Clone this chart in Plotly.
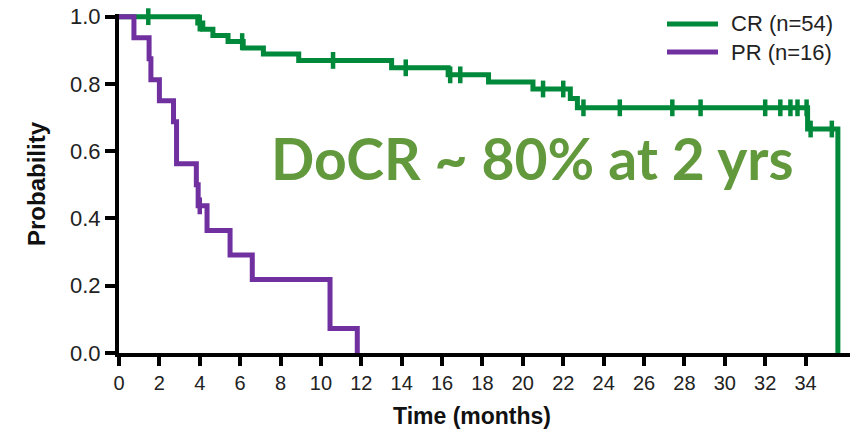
import plotly.graph_objects as go

# ---- data ----
series_names = ["CR (n=54)", "PR (n=16)"]
series_colors = ["#00893a", "#7030a0"]

cr_times = [3.9, 4.15, 4.65, 5.4, 6.15, 7.15, 8.9, 13.5, 16.3, 18.3, 20.5, 22.35, 22.7, 34.1, 35.6]
cr_surv = [0.981, 0.963, 0.944, 0.926, 0.907, 0.889, 0.870, 0.848, 0.827, 0.806, 0.785, 0.757, 0.729, 0.666, 0.0]
cr_censor_times = [1.45, 4.0, 6.1, 10.6, 14.2, 16.4, 16.9, 21.0, 22.0, 23.0, 24.8, 27.4, 28.8,
                   32.0, 32.75, 33.25, 33.6, 34.05, 34.25, 35.3]

pr_times = [0.74, 1.49, 1.58, 2.0, 2.7, 2.85, 3.83, 3.92, 4.36, 5.5, 6.6, 10.45, 11.8]
pr_surv = [0.9375, 0.875, 0.8125, 0.75, 0.6875, 0.5625, 0.5, 0.4375, 0.3646, 0.2917, 0.2188, 0.0729, 0.0]
pr_censor_times = [4.0]

x_ticks = list(range(0, 35, 2))
y_ticks = [0.0, 0.2, 0.4, 0.6, 0.8, 1.0]
annotation_text = "DoCR ~ 80% at 2 yrs"


def level_at(t, times, surv):
    s = 1.0
    for ti, si in zip(times, surv):
        if ti <= t:
            s = si
    return s


fig = go.Figure()
for name, color, times, surv, ctimes in [
    (series_names[0], series_colors[0], cr_times, cr_surv, cr_censor_times),
    (series_names[1], series_colors[1], pr_times, pr_surv, pr_censor_times),
]:
    fig.add_trace(go.Scatter(
        x=[0] + times, y=[1.0] + surv, mode="lines", line=dict(color=color, width=5, shape="hv"),
        name=name, showlegend=False, hoverinfo="skip"))
    fig.add_trace(go.Scatter(
        x=ctimes, y=[level_at(t, times, surv) for t in ctimes], mode="markers",
        marker=dict(symbol="line-ns", size=12, line=dict(color=color, width=4.5)),
        showlegend=False, hoverinfo="skip", cliponaxis=False))

# body margin removed via post_script so the figure fills the 866x435 window
W, H = 866, 435
L, R, T, B = 119, W - 850, 14, H - 353
pw, ph = W - L - R, H - T - B


def px_x(p):
    return (p - L) / pw


def px_y(p):
    return (H - B - p) / ph


# manual legend
for i, (name, color) in enumerate(zip(series_names, series_colors)):
    yy = px_y(24 + 28 * i)
    fig.add_shape(type="line", xref="paper", yref="paper", x0=px_x(667), x1=px_x(718), y0=yy, y1=yy,
                  line=dict(color=color, width=5))
    fig.add_annotation(xref="paper", yref="paper", x=px_x(729), y=yy, text=name, showarrow=False,
                       xanchor="left", yanchor="middle",
                       font=dict(family="Liberation Sans, Arial", size=22, color="#222222"))

fig.add_annotation(x=20.5, y=0.58, text=annotation_text, showarrow=False, xanchor="center",
                   yanchor="middle", font=dict(family="Lato", size=57, color="#61993c", weight="bold"))

fig.add_annotation(xref="paper", yref="paper", x=px_x(472), y=px_y(416), text="<b>Time (months)</b>",
                   showarrow=False, xanchor="center", yanchor="middle",
                   font=dict(family="Liberation Sans, Arial", size=23, color="#111111"))

fig.add_annotation(xref="paper", yref="paper", x=px_x(36), y=px_y(184), text="<b>Probability</b>",
                   showarrow=False, xanchor="center", yanchor="middle", textangle=-90,
                   font=dict(family="Liberation Sans, Arial", size=24, color="#111111"))

fig.update_layout(
    width=W, height=H, margin=dict(l=L, r=R, t=T, b=B, autoexpand=False),
    paper_bgcolor="white", plot_bgcolor="white",
    xaxis=dict(range=[0, 36.2], tickvals=x_ticks, ticktext=[str(v) for v in x_ticks], automargin=False,
               showgrid=False, zeroline=False, showline=True, linecolor="black", linewidth=4,
               ticks="outside", ticklen=9, tickwidth=4, tickcolor="black",
               tickfont=dict(family="Liberation Sans, Arial", size=20, color="#222222")),
    yaxis=dict(range=[0, 1.008], tickvals=y_ticks, ticktext=[f"{v:.1f}" for v in y_ticks], automargin=False,
               ticklabeloverflow="allow",
               showgrid=False, zeroline=False, showline=True, linecolor="black", linewidth=4,
               ticks="outside", ticklen=10, tickwidth=4, tickcolor="black",
               tickfont=dict(family="Liberation Sans, Arial", size=22, color="#222222")),
)

fig.write_html("out.html", config={"displayModeBar": False},
               post_script="document.body.style.margin='0px';")
